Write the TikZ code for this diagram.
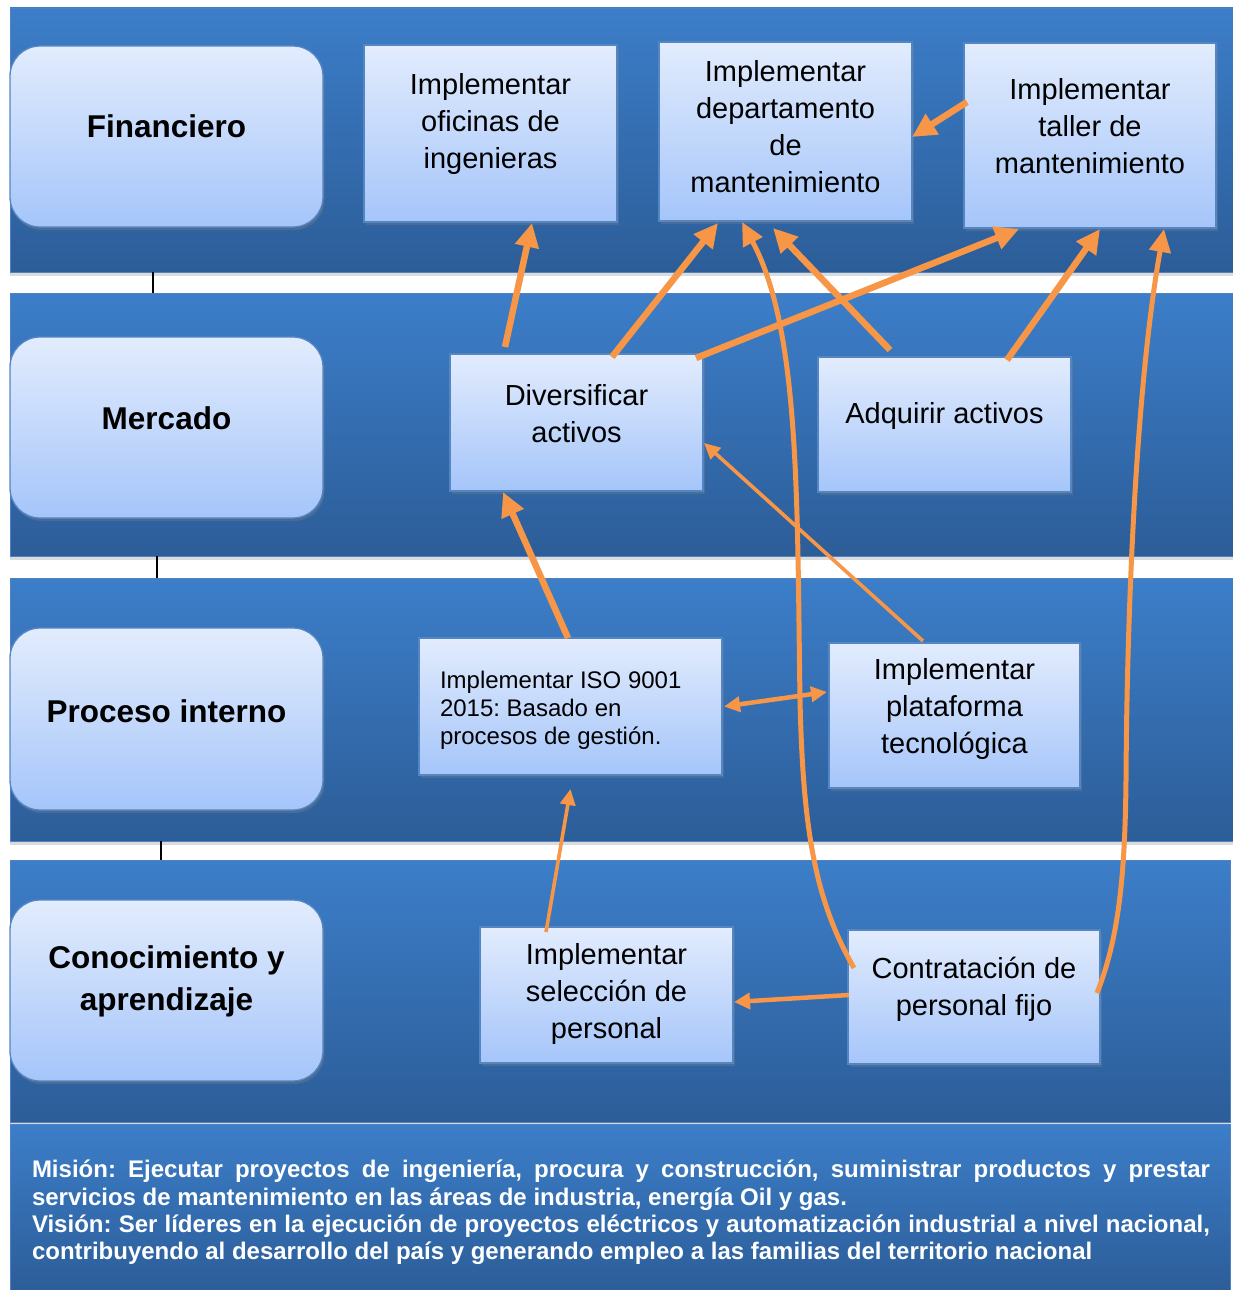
\documentclass[tikz,border=0pt]{standalone}
\usepackage{fontspec}
\setmainfont{Liberation Sans}
\usetikzlibrary{arrows.meta,shadows}

\definecolor{bandtop}{RGB}{60,126,201}
\definecolor{bandbot}{RGB}{44,93,152}
\definecolor{bandedge}{RGB}{80,130,192}
\definecolor{boxtop}{RGB}{226,236,253}
\definecolor{boxbot}{RGB}{165,197,250}
\definecolor{boxedge}{RGB}{84,134,196}
\definecolor{arrowc}{RGB}{247,150,70}

\begin{document}
\frenchspacing
\begin{tikzpicture}[x=1pt,y=-1pt,
  every node/.style={inner sep=0pt, outer sep=0pt},
  band/.style={draw=bandedge, line width=0.8pt, top color=bandtop, bottom color=bandbot,
    drop shadow={shadow xshift=0pt, shadow yshift=-4pt, opacity=0.28}},
  lbox/.style={draw=boxedge, line width=1.3pt, rounded corners=30pt, top color=boxtop, bottom color=boxbot,
    drop shadow={shadow xshift=1.5pt, shadow yshift=-3pt, opacity=0.35}, minimum width=313pt},
  sbox/.style={draw=boxedge, line width=1.2pt, top color=boxtop, bottom color=boxbot,
    drop shadow={shadow xshift=1.5pt, shadow yshift=-3pt, opacity=0.35}},
  ltext/.style={align=center, font=\bfseries\fontsize{31.5}{42}\selectfont},
  btext/.style={align=center, font=\fontsize{29}{37}\selectfont},
  stext/.style={align=left, font=\fontsize{24}{28}\selectfont},
  mission/.style={align=left, text=white, font=\bfseries\fontsize{24}{27.4}\selectfont},
  tick/.style={draw=black, line width=1.4pt},
  arrbig/.style={draw=arrowc, line width=6.5pt, -{Triangle[length=24pt,width=23pt]}},
  arrcurve/.style={draw=arrowc, line width=5pt, -{Triangle[length=23pt,width=21pt]}},
  arrthin/.style={draw=arrowc, line width=3.6pt, -{Triangle[length=16pt,width=15pt]}},
  arrmid/.style={draw=arrowc, line width=4.5pt, -{Triangle[length=16pt,width=16pt]}},
  arrboth/.style={draw=arrowc, line width=4.5pt, {Triangle[length=16pt,width=15pt]}-{Triangle[length=16pt,width=15pt]}}
]
\useasboundingbox (0,0) rectangle (1233,1290);
\fill[white] (0,0) rectangle (1233,1290);

% perspective bands
\node[band, minimum width=1223pt, minimum height=264pt] (b1) at (621.5,140) {};
\node[band, minimum width=1223pt, minimum height=263pt] (b2) at (621.5,424.5) {};
\node[band, minimum width=1223pt, minimum height=263pt] (b3) at (621.5,709.5) {};
\node[band, minimum width=1220pt, minimum height=262pt] (b4) at (620,991) {};
\node[band, minimum width=1220pt, minimum height=168pt] (b5) at (620,1208) {};

% small links between the bands
\draw[tick] ([xshift=143pt]b1.south west) -- ([xshift=143pt]b2.north west);
\draw[tick] ([xshift=147pt]b2.south west) -- ([xshift=147pt]b3.north west);
\draw[tick] ([xshift=151pt]b3.south west) -- ([xshift=151pt]b4.north west);

% perspective labels
\node[lbox, minimum height=181pt] (fin) at (166.5,136.5) {};
\node[lbox, minimum height=181pt] (mer) at (166.5,427.5) {};
\node[lbox, minimum height=182pt] (pro) at (166.5,719) {};
\node[lbox, minimum height=181pt] (con) at (166.5,990.5) {};
\node[ltext] (finT) at (166.5,126) {Financiero};
\node[ltext] (merT) at (166.5,418) {Mercado};
\node[ltext] (proT) at (166.5,711) {Proceso interno};
\node[ltext] (conT) at (166.5,981) {Conocimiento y\\aprendizaje};

% objectives
\node[sbox, minimum width=253pt, minimum height=177pt] (ofi) at (490.5,133.5) {};
\node[sbox, minimum width=253pt, minimum height=179pt] (dep) at (785.5,131.5) {};
\node[sbox, minimum width=252pt, minimum height=185pt] (tal) at (1090,135.5) {};
\node[sbox, minimum width=253pt, minimum height=137pt] (div) at (576.5,422.5) {};
\node[sbox, minimum width=253pt, minimum height=135pt] (adq) at (944.5,424.5) {};
\node[sbox, minimum width=303pt, minimum height=137pt] (iso) at (570.5,706.5) {};
\node[sbox, minimum width=251pt, minimum height=145pt] (pla) at (954.5,715.5) {};
\node[sbox, minimum width=253pt, minimum height=136pt] (sel) at (606.5,995) {};
\node[sbox, minimum width=252pt, minimum height=134pt] (ctr) at (974,997) {};

\node[btext] (ofiT) at (490.5,124) {Implementar\\oficinas de\\ingenieras};
\node[btext] (depT) at (785.5,127) {Implementar\\departamento\\de\\mantenimiento};
\node[btext] (talT) at (1090,126) {Implementar\\taller de\\mantenimiento};
\node[btext] (divT) at (576.5,414) {Diversificar\\activos};
\node[btext] (adqT) at (944.5,416) {Adquirir activos};
\node[stext, anchor=west] (isoT) at (440,710) {Implementar ISO 9001\\2015: Basado en\\procesos de gestión.};
\node[btext] (plaT) at (954.5,708.5) {Implementar\\plataforma\\tecnológica};
\node[btext] (selT) at (606.5,993.5) {Implementar\\selección de\\personal};
\node[btext] (ctrT) at (974,989.5) {Contratación de\\personal fijo};

% mission and vision
\node[mission, anchor=north west] (mv) at (32,1160) {%
\makebox[1178pt][s]{Misión: Ejecutar proyectos de ingeniería, procura y construcción, suministrar productos y prestar}\\
servicios de mantenimiento en las áreas de industria, energía Oil y gas.\\
\makebox[1178pt][s]{Visión: Ser líderes en la ejecución de proyectos eléctricos y automatización industrial a nivel nacional,}\\
contribuyendo al desarrollo del país y generando empleo a las familias del territorio nacional};

% cause-effect links
\draw[arrbig] ([xshift=-71.5pt,yshift=7pt]div.north) -- ([xshift=41.5pt,yshift=-1pt]ofi.south);
\draw[arrbig] ([xshift=35.5pt,yshift=-3pt]div.north) -- ([xshift=-67.5pt,yshift=-2pt]dep.south);
\draw[arrbig] ([xshift=-7pt,yshift=-4pt]div.north east) -- ([xshift=-71pt,yshift=-1pt]tal.south);
\draw[arrbig] ([xshift=-54.5pt,yshift=7pt]adq.north) -- ([xshift=-12.5pt,yshift=-7pt]dep.south);
\draw[arrbig] ([xshift=62.5pt,yshift=-3pt]adq.north) -- ([xshift=10pt,yshift=-1pt]tal.south);
\draw[arrbig] ([xshift=3pt,yshift=33.5pt]tal.west) -- ([yshift=-5.5pt]dep.east);
\draw[arrbig] ([xshift=-2.5pt]iso.north) -- ([xshift=-73.5pt,yshift=-1pt]div.south);
\draw[arrthin] ([xshift=-31.5pt,yshift=2pt]pla.north) -- ([xshift=1pt,yshift=-20.5pt]div.east);
\draw[arrboth] ([xshift=2pt]iso.east) -- ([xshift=-2pt,yshift=23.5pt]pla.west);
\draw[arrthin] ([xshift=-60.5pt,yshift=-5pt]sel.north) -- ([yshift=-14pt]iso.south);
\draw[arrmid] ([xshift=1pt,yshift=2pt]ctr.west) -- ([xshift=1pt,yshift=-7pt]sel.east);
\coordinate (bendL) at (800,700);
\coordinate (bendR) at (1126,780);
\draw[arrcurve] ([xshift=6pt,yshift=29pt]ctr.west) .. controls (815,900) and (803,830) .. (bendL)
  .. controls (797,500) and (800,330) .. ([xshift=-43.5pt,yshift=-1pt]dep.south);
\draw[arrcurve] ([xshift=-3pt,yshift=4pt]ctr.east) .. controls (1118,940) and (1125,880) .. (bendR)
  .. controls (1127,600) and (1137,380) .. ([xshift=74pt,yshift=-1pt]tal.south);
\end{tikzpicture}
\end{document}
